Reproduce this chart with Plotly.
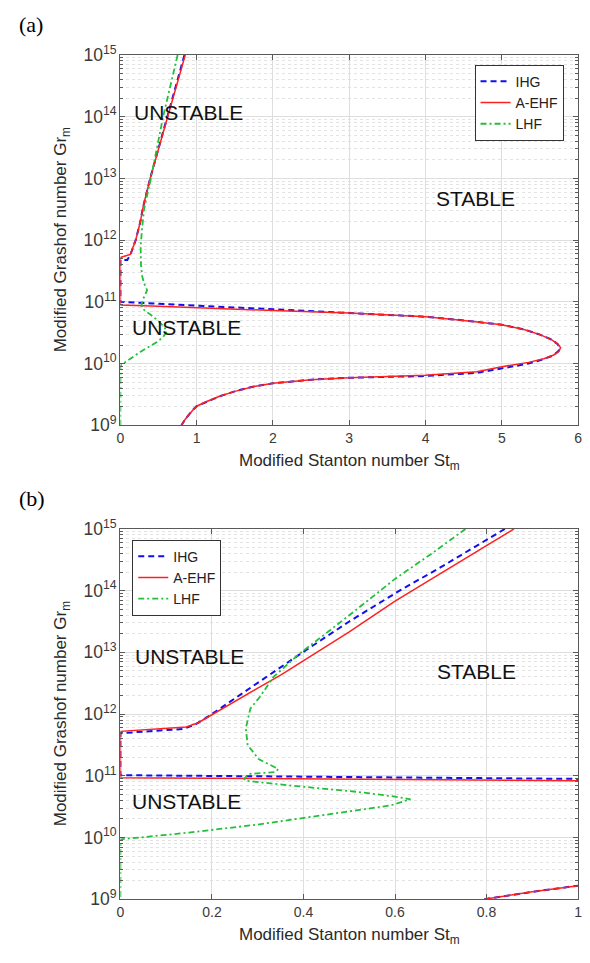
import plotly.graph_objects as go

# ---------------- data (x = St_m, e = log10(Gr_m)) ----------------
# panel (a)
a_ihg_x = [0.84, 0.61, 0.39, 0.30, 0.26, 0.20, 0.16, 0.13, 0.09, 0.0, 0.0, 0.5, 1.25, 2.0, 3.0, 4.0, 4.5,
           5.0, 5.3, 5.5, 5.65, 5.73, 5.76, 5.74, 5.67, 5.54, 5.35, 5.0, 4.67, 4.0, 3.0, 2.5, 2.0, 1.75,
           1.5, 1.3, 1.1, 1.0, 0.95, 0.9, 0.85, 0.8]
a_ihg_e = [15.0, 14.0, 13.0, 12.55, 12.29, 12.0, 11.84, 11.76, 11.68, 11.68, 11.0, 10.97, 10.92, 10.87, 10.82,
           10.76, 10.70, 10.63, 10.55, 10.47, 10.39, 10.32, 10.26, 10.20, 10.13, 10.07, 10.0, 9.92, 9.85,
           9.80, 9.77, 9.74, 9.68, 9.63, 9.55, 9.47, 9.37, 9.31, 9.25, 9.18, 9.1, 9.0]
a_aehf_x = [0.85, 0.62, 0.39, 0.30, 0.26, 0.20, 0.16, 0.13, 0.0, 0.0, 0.5, 1.25, 2.0, 3.0, 4.0, 4.5, 5.0,
            5.3, 5.5, 5.65, 5.73, 5.77, 5.75, 5.68, 5.55, 5.35, 5.0, 4.67, 4.0, 3.0, 2.5, 2.0, 1.75,
            1.5, 1.3, 1.1, 1.0, 0.95, 0.9, 0.85, 0.8]
a_aehf_e = [15.0, 14.0, 13.0, 12.55, 12.29, 12.0, 11.85, 11.77, 11.72, 10.95, 10.93, 10.89, 10.86, 10.82,
            10.76, 10.70, 10.63, 10.55, 10.47, 10.39, 10.32, 10.26, 10.20, 10.14, 10.08, 10.02, 9.95,
            9.87, 9.81, 9.77, 9.74, 9.68, 9.63, 9.55, 9.47, 9.37, 9.31, 9.25, 9.18, 9.1, 9.0]
a_lhf_x = [0.75, 0.56, 0.40, 0.31, 0.285, 0.265, 0.27, 0.285, 0.31, 0.35, 0.30, 0.28, 0.28, 0.38, 0.48,
           0.57, 0.61, 0.56, 0.48, 0.37, 0.26, 0.12, 0.0, 0.0]
a_lhf_e = [15.0, 14.0, 13.0, 12.5, 12.2, 11.9, 11.6, 11.42, 11.3, 11.19, 11.05, 10.98, 10.90, 10.80, 10.71,
           10.6, 10.52, 10.43, 10.35, 10.27, 10.19, 10.07, 9.97, 9.0]

# panel (b)
b_ihg_x = [0.84, 0.70, 0.61, 0.50, 0.39, 0.30, 0.25, 0.20, 0.166, 0.138, 0.0, 0.0, 1.0]
b_ihg_e = [15.0, 14.38, 14.0, 13.5, 12.96, 12.5, 12.25, 12.0, 11.84, 11.76, 11.69, 11.01, 10.95]
b_ihg_low_x = [0.795, 0.9, 1.0]
b_ihg_low_e = [9.0, 9.12, 9.22]
b_aehf_x = [0.86, 0.80, 0.70, 0.60, 0.50, 0.39, 0.35, 0.30, 0.25, 0.20, 0.17, 0.144, 0.0, 0.0, 1.0]
b_aehf_e = [15.0, 14.73, 14.29, 13.83, 13.33, 12.82, 12.63, 12.42, 12.2, 11.98, 11.86, 11.79, 11.72, 10.97, 10.92]
b_aehf_low_x = [0.795, 0.9, 1.0]
b_aehf_low_e = [9.0, 9.12, 9.22]
b_lhf_x = [0.754, 0.68, 0.60, 0.50, 0.39, 0.334, 0.306, 0.284, 0.274, 0.278, 0.302, 0.345, 0.338, 0.28,
           0.27, 0.274, 0.375, 0.517, 0.603, 0.634, 0.59, 0.446, 0.30, 0.15, 0.0, 0.0]
b_lhf_e = [15.0, 14.6, 14.19, 13.6, 12.97, 12.6, 12.29, 12.09, 11.77, 11.50, 11.27, 11.11, 11.06, 11.03,
           10.95, 10.92, 10.84, 10.74, 10.66, 10.62, 10.52, 10.36, 10.21, 10.08, 9.97, 9.0]

series_names = ["IHG", "A-EHF", "LHF"]
region_labels_a = [("UNSTABLE", 0.89, 14.07), ("UNSTABLE", 0.86, 10.59), ("STABLE", 4.66, 12.67)]
region_labels_b = [("UNSTABLE", 0.15, 12.94), ("UNSTABLE", 0.144, 10.59), ("STABLE", 0.778, 12.69)]


def gr(exps):
    return [None if v is None else 10 ** v for v in exps]


def join(x1, y1, x2, y2):
    return x1 + [None] + x2, y1 + [None] + y2


styles = {
    "IHG": dict(color="#1010ee", width=2.0, dash="6px,4px"),
    "A-EHF": dict(color="#ff2020", width=1.5, dash="solid"),
    "LHF": dict(color="#22c03a", width=1.8, dash="6px,3px,2px,3px"),
}

W, H = 590, 963
fig = go.Figure()

# panel a
for name, xs, es in [("IHG", a_ihg_x, a_ihg_e), ("A-EHF", a_aehf_x, a_aehf_e), ("LHF", a_lhf_x, a_lhf_e)]:
    fig.add_trace(go.Scatter(x=xs, y=gr(es), mode="lines", name=name, line=styles[name],
                             xaxis="x", yaxis="y", legend="legend"))

# panel b
bi_x, bi_e = join(b_ihg_x, b_ihg_e, b_ihg_low_x, b_ihg_low_e)
br_x, br_e = join(b_aehf_x, b_aehf_e, b_aehf_low_x, b_aehf_low_e)
for name, xs, es in [("IHG", bi_x, bi_e), ("A-EHF", br_x, br_e), ("LHF", b_lhf_x, b_lhf_e)]:
    fig.add_trace(go.Scatter(x=xs, y=gr(es), mode="lines", name=name, line=styles[name],
                             xaxis="x2", yaxis="y2", legend="legend2", connectgaps=False))

axcol = "#5a5a5a"
tickfont = dict(family="Liberation Sans", size=14, color="#3a3a3a")


def yax(domain, anchor):
    return dict(type="log", range=[9, 15], dtick=1, exponentformat="power", domain=domain, anchor=anchor,
                showgrid=True, gridcolor="#dedede", gridwidth=1, ticks="inside", ticklen=5,
                tickcolor=axcol, showline=True, linecolor=axcol, linewidth=1, mirror="ticks",
                tickfont=tickfont, zeroline=False,
                minor=dict(showgrid=True, gridcolor="#e3e3e3", griddash="dot", ticks="inside",
                           ticklen=3, tickcolor=axcol, dtick="D1"))


def xax(domain, anchor, rng, dt):
    return dict(range=rng, dtick=dt, domain=domain, anchor=anchor, showgrid=True, gridcolor="#dedede",
                ticks="inside", ticklen=5, tickcolor=axcol, showline=True, linecolor=axcol, linewidth=1,
                mirror="ticks", tickfont=tickfont, zeroline=False)


xd = [118 / W, 582 / W]
ya = [1 - 423 / H, 1 - 44 / H]
yb = [1 - 908 / H, 1 - 529 / H]

legfont = dict(family="Liberation Sans", size=14, color="#222")
fig.update_layout(
    width=W, height=H, margin=dict(l=0, r=0, t=0, b=0), paper_bgcolor="white", plot_bgcolor="white",
    xaxis=xax(xd, "y", [0, 6], 1), yaxis=yax(ya, "x"),
    xaxis2=xax(xd, "y2", [0, 1], 0.2), yaxis2=yax(yb, "x2"),
    legend=dict(x=477 / W, y=1 - 54 / H, xanchor="left", yanchor="top", bgcolor="white",
                bordercolor="#333", borderwidth=1, font=legfont, tracegroupgap=0),
    legend2=dict(x=130 / W, y=1 - 540 / H, xanchor="left", yanchor="top", bgcolor="white",
                 bordercolor="#333", borderwidth=1, font=legfont, tracegroupgap=0),
    showlegend=True,
)

ann = []
for txt, x, e in region_labels_a:
    ann.append(dict(text=txt, x=x, y=e, xref="x", yref="y", showarrow=False,
                    font=dict(family="Liberation Sans", size=21, color="#111")))
for txt, x, e in region_labels_b:
    ann.append(dict(text=txt, x=x, y=e, xref="x2", yref="y2", showarrow=False,
                    font=dict(family="Liberation Sans", size=21, color="#111")))

titlefont = dict(family="Liberation Sans", size=17, color="#2a2a2a")
for top, bot, lab in [(44, 423, "(a)"), (529, 908, "(b)")]:
    ann.append(dict(text="Modified Stanton number St<sub>m</sub>", x=350 / W, y=1 - (bot + 38) / H,
                    xref="paper", yref="paper", xanchor="center", yanchor="middle", showarrow=False,
                    font=titlefont))
    ann.append(dict(text="Modified Grashof number Gr<sub>m</sub>", x=59 / W, y=1 - ((top + bot) / 2) / H,
                    xref="paper", yref="paper", xanchor="center", yanchor="middle", showarrow=False,
                    textangle=-90, font=titlefont))
    ann.append(dict(text=lab, x=13 / W, y=1 - (top - 31) / H, xref="paper", yref="paper",
                    xanchor="left", yanchor="middle", showarrow=False,
                    font=dict(family="Liberation Serif", size=22, color="black")))

fig.update_layout(annotations=ann)
fig.write_html("out.html")
